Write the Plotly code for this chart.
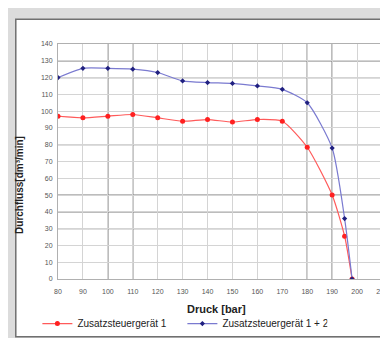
import plotly.graph_objects as go

druck = [80, 90, 100, 110, 120, 130, 140, 150, 160, 170, 180, 190, 195, 198]
geraet1 = [97, 96, 97, 98, 96, 94, 95, 93.5, 95, 94, 78.5, 50, 25.5, 0]
geraet12 = [120, 125.5, 125.5, 125, 123, 118, 117, 116.5, 115, 113, 105, 78, 36, 0]
x_ticks = list(range(80, 211, 10))
y_ticks = list(range(0, 141, 10))
dark_x = [100, 110, 180, 190]
dark_y = [30, 40, 50, 80, 120, 130]

L, R, T, B = 50, 380, 36, 284
W, H = R - L, B - T

fig = go.Figure()
fig.add_trace(go.Scatter(
    x=druck, y=geraet1, name="Zusatzsteuergerät 1", mode="lines+markers",
    line=dict(color="#ff5a5a", width=1.2, shape="spline", smoothing=0.6),
    marker=dict(color="#ff2020", size=5, symbol="circle")))
fig.add_trace(go.Scatter(
    x=druck, y=geraet12, name="Zusatzsteuergerät 1 + 2", mode="lines+markers",
    line=dict(color="#7a7ad0", width=1.2, shape="spline", smoothing=0.6),
    marker=dict(color="#202080", size=4, symbol="diamond")))

shapes = [dict(type="rect", xref="paper", yref="paper", x0=(7 - L) / W, x1=(392 - L) / W,
               y0=(B - 345) / H, y1=(B - 10) / H, fillcolor="white",
               line=dict(color="#707070", width=1.5), layer="below")]
for v in dark_x:
    shapes.append(dict(type="line", xref="x", yref="y", x0=v, x1=v, y0=0, y1=140,
                       line=dict(color="#7a7a7a", width=1.3), layer="below"))
for v in dark_y:
    shapes.append(dict(type="line", xref="x", yref="y", x0=80, x1=210, y0=v, y1=v,
                       line=dict(color="#7a7a7a", width=1.3), layer="below"))

fig.update_layout(
    width=388, height=338,
    margin=dict(l=L, r=388 - R, t=T, b=338 - B),
    paper_bgcolor="#dcdcdc", plot_bgcolor="white",
    font=dict(family="Liberation Sans, Arial", color="#333"),
    shapes=shapes,
    showlegend=True,
    legend=dict(orientation="h", x=(29 - L) / W, y=(B - 331) / H, xanchor="left", yanchor="middle",
                font=dict(size=10, color="#222"), bgcolor="rgba(0,0,0,0)",
                itemwidth=30, tracegroupgap=0, entrywidth=100),
    annotations=[
        dict(text="<b>Druck [bar]</b>", xref="paper", yref="paper",
             x=(211 - L) / W, y=(B - 316) / H, showarrow=False,
             font=dict(size=11, color="#222"), xanchor="center", yanchor="middle"),
        dict(text="<b>Durchfluss[dm³/min]</b>", xref="paper", yref="paper",
             x=(10 - L) / W, y=(B - 185) / H, showarrow=False, textangle=-90,
             font=dict(size=10, color="#222"), xanchor="center", yanchor="middle"),
    ],
)
fig.update_xaxes(range=[80, 210], tickvals=x_ticks, showgrid=True,
                 gridcolor="#d4d4d4", gridwidth=1, zeroline=False,
                 showline=True, linecolor="#b0b0b0", mirror=True,
                 tickfont=dict(size=7, color="#555"), ticks="outside", ticklen=6,
                 tickcolor="rgba(0,0,0,0)")
fig.update_yaxes(range=[0, 140], tickvals=y_ticks, showgrid=True,
                 gridcolor="#d4d4d4", gridwidth=1, zeroline=False,
                 showline=True, linecolor="#b0b0b0", mirror=True,
                 tickfont=dict(size=7, color="#555"), ticks="outside", ticklen=3,
                 tickcolor="rgba(0,0,0,0)")

fig.write_html("out.html")
